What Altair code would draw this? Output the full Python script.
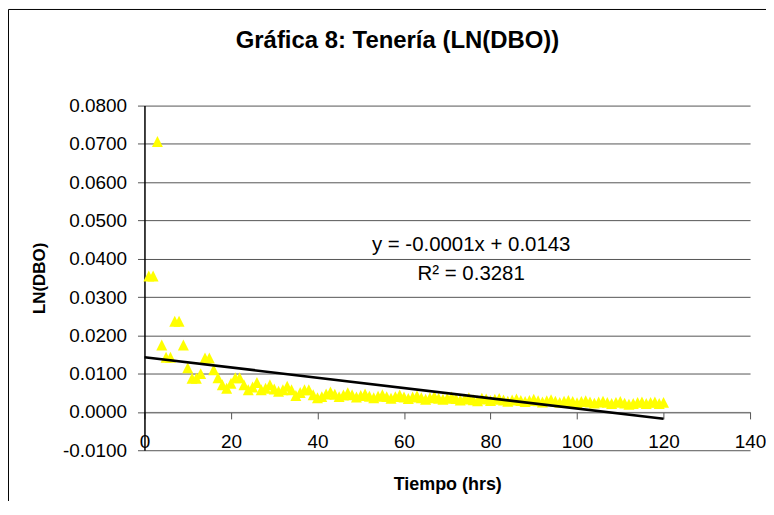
import altair as alt
import pandas as pd

# ---- data ----
hours = list(range(1, 121))
ln_dbo = [
    0.0355, 0.0355, 0.0706, 0.0175, 0.0143, 0.0143, 0.0237, 0.0237, 0.0175, 0.0115,
    0.0088, 0.0088, 0.0100, 0.0141, 0.0141, 0.0110, 0.0089, 0.0071, 0.0062, 0.0075,
    0.0089, 0.0089, 0.0071, 0.0058, 0.0065, 0.0077, 0.0058, 0.0062, 0.0071, 0.0060,
    0.0054, 0.0058, 0.0067, 0.0058, 0.0043, 0.0051, 0.0058, 0.0058, 0.0045, 0.0037,
    0.0040, 0.0047, 0.0052, 0.0046, 0.0040, 0.0044, 0.0050, 0.0045, 0.0039, 0.0043,
    0.0047, 0.0041, 0.0037, 0.0041, 0.0045, 0.0040, 0.0036, 0.0040, 0.0044, 0.0039,
    0.0035, 0.0039, 0.0042, 0.0037, 0.0033, 0.0037, 0.0041, 0.0036, 0.0033, 0.0036,
    0.0039, 0.0035, 0.0031, 0.0034, 0.0037, 0.0032, 0.0029, 0.0036, 0.0034, 0.0030,
    0.0033, 0.0035, 0.0031, 0.0028, 0.0031, 0.0034, 0.0030, 0.0027, 0.0030, 0.0033,
    0.0029, 0.0026, 0.0029, 0.0032, 0.0028, 0.0025, 0.0028, 0.0030, 0.0027, 0.0024,
    0.0027, 0.0029, 0.0026, 0.0023, 0.0026, 0.0028, 0.0025, 0.0022, 0.0025, 0.0027,
    0.0023, 0.0020, 0.0022, 0.0025, 0.0026, 0.0022, 0.0025, 0.0026, 0.0022, 0.0025,
]
trend_x = [0, 120]
trend_y = [0.0143, -0.0018]

y_ticks = [-0.01, 0.0, 0.01, 0.02, 0.03, 0.04, 0.05, 0.06, 0.07, 0.08]
x_ticks = [0, 20, 40, 60, 80, 100, 120, 140]

title_text = "Gráfica 8: Tenería (LN(DBO))"
x_title = "Tiempo (hrs)"
y_title = "LN(DBO)"
eq_text = "y = -0.0001x + 0.0143"
r2_text = "R² = 0.3281"

FONT = "Liberation Sans"
W, H = 608, 346

df = pd.DataFrame({"t": hours, "v": ln_dbo})
trend = pd.DataFrame({"t": trend_x, "v": trend_y})
one = pd.DataFrame({"a": [0]})

xs = alt.Scale(domain=[0, 140], nice=False, zero=False)
ys = alt.Scale(domain=[-0.01, 0.08], nice=False, zero=False)

label_expr = "datum.value < -0.000001 ? '-' + format(-datum.value, '.4f') : format(abs(datum.value), '.4f')"

x_axis = alt.Axis(
    values=x_ticks, tickCount=30, title=x_title, offset=-H * 0.01 / 0.09, grid=False,
    tickSize=7, tickColor="#555555", domainColor="#777777", domainWidth=1,
    labelPadding=14, labelFontSize=19, labelFont=FONT, labelColor="black",
    labelFlush=False, labelOverlap=False,
    titlePadding=24, titleFontSize=18, titleFont=FONT, titleFontWeight="bold",
    titleColor="black",
)
y_axis = alt.Axis(
    values=y_ticks, tickCount=30, title=y_title, labelExpr=label_expr, grid=True,
    gridColor="#555555", gridWidth=1, tickSize=7, tickColor="#555555",
    domainColor="black", domainWidth=1.5,
    labelPadding=11, labelFontSize=19, labelFont=FONT, labelColor="black",
    labelOverlap=False, labelFlush=False,
    titlePadding=14, titleFontSize=17, titleFont=FONT, titleFontWeight="bold",
    titleColor="black",
)

border = alt.Chart(one).mark_rect(
    fillOpacity=0, stroke="black", strokeWidth=1, clip=False
).encode(
    x=alt.value(-136.5), x2=alt.value(1000), y=alt.value(-96.5), y2=alt.value(800)
)

points = alt.Chart(df).mark_point(
    shape="M0,-1L1,1L-1,1Z", filled=True, fill="#FFFF00", size=121,
    opacity=1, strokeWidth=0,
).encode(
    x=alt.X("t:Q", scale=xs, axis=x_axis),
    y=alt.Y("v:Q", scale=ys, axis=y_axis),
)

line = alt.Chart(trend).mark_line(color="black", strokeWidth=2.6).encode(
    x=alt.X("t:Q", scale=xs),
    y=alt.Y("v:Q", scale=ys),
)

eq = alt.Chart(one).mark_text(
    text=eq_text, font=FONT, fontSize=20.5, color="black",
    align="center", baseline="alphabetic",
).encode(x=alt.value(328), y=alt.value(146))

r2 = alt.Chart(one).mark_text(
    text=r2_text, font=FONT, fontSize=20.5, color="black",
    align="center", baseline="alphabetic",
).encode(x=alt.value(328), y=alt.value(175))

chart = alt.layer(border, points, line, eq, r2).properties(
    width=W, height=H,
    padding={"left": 137, "top": 97, "right": 16, "bottom": 50},
    autosize=alt.AutoSizeParams(type="none"),
    title=alt.TitleParams(
        text=title_text, font=FONT, fontSize=24, fontWeight="bold",
        color="black", anchor="middle", frame="group", dx=-50, dy=63,
        offset=0, baseline="alphabetic",
    ),
).configure_view(strokeWidth=0)

chart.save("out.html", embed_options={"renderer": "svg", "actions": False})
